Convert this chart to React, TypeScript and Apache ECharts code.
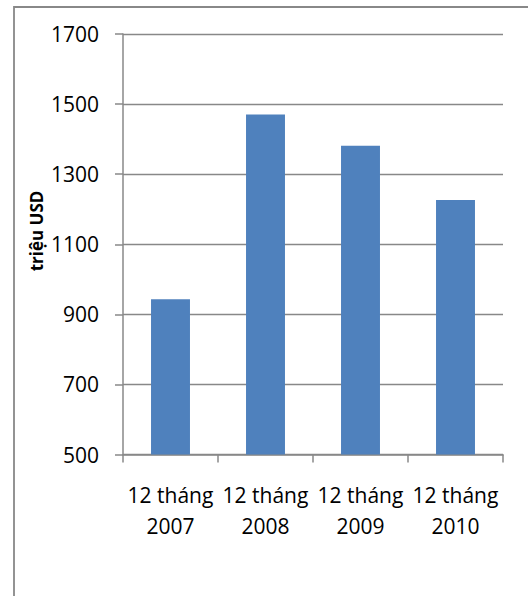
import React, { useEffect, useRef } from "react";
import * as echarts from "echarts";

const categories = ["12 tháng\n2007", "12 tháng\n2008", "12 tháng\n2009", "12 tháng\n2010"];
const values = [943, 1470, 1381, 1226];
const yMin = 500;
const yMax = 1700;
const yInterval = 200;
const yAxisTitle = "triệu USD";

export default function App() {
  const ref = useRef<HTMLDivElement>(null);
  useEffect(() => {
    if (!ref.current) return;
    const chart = echarts.init(ref.current, undefined, { renderer: "svg" });
    const font = "'Open Sans', 'Noto Sans', sans-serif";
    chart.setOption({
      animation: false,
      backgroundColor: "#ffffff",
      grid: { left: 123, right: 25, top: 34, bottom: 141.5, containLabel: false },
      xAxis: {
        type: "category",
        data: categories,
        axisLine: { show: true, lineStyle: { color: "#888888", width: 1.5 } },
        axisTick: { show: true, length: 8, lineStyle: { color: "#888888", width: 1.5 } },
        axisLabel: {
          color: "#000000",
          fontSize: 21,
          lineHeight: 31,
          fontFamily: font,
          margin: 25,
          interval: 0,
        },
      },
      yAxis: {
        type: "value",
        min: yMin,
        max: yMax,
        interval: yInterval,
        axisLine: { show: true, lineStyle: { color: "#888888", width: 1.5 } },
        axisTick: { show: true, length: 8, lineStyle: { color: "#888888", width: 1.5 } },
        axisLabel: {
          color: "#000000",
          fontSize: 21,
          fontFamily: font,
          margin: 24,
          formatter: (v: number) => String(v),
        },
        splitLine: { show: true, lineStyle: { color: "#888888", width: 1.3 } },
      },
      graphic: [
        {
          type: "rect",
          shape: { x: 14, y: 7, width: 700, height: 800 },
          style: { fill: "none", stroke: "#888888", lineWidth: 1.8 },
          silent: true,
          z: 100,
        },
        {
          type: "text",
          x: 36,
          y: 231,
          rotation: Math.PI / 2,
          style: {
            text: yAxisTitle,
            fontSize: 17,
            fontWeight: "bold",
            fontFamily: font,
            fill: "#000000",
            align: "center",
            verticalAlign: "middle",
          },
        },
      ],
      series: [
        {
          type: "bar",
          data: values,
          barWidth: "41%",
          itemStyle: { color: "#4F81BD" },
        },
      ],
    });
    return () => chart.dispose();
  }, []);
  return (
    <div
      ref={ref}
      style={{ position: "absolute", left: 0, top: 0, width: 528, height: 596 }}
    />
  );
}
